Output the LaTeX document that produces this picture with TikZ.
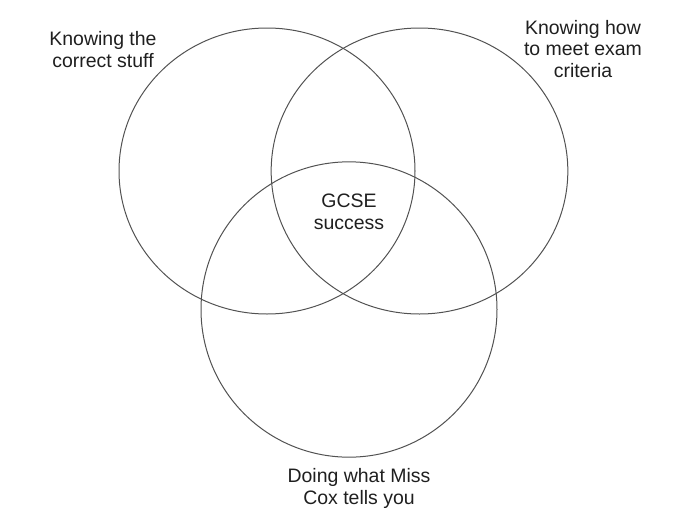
\documentclass[tikz,border=0pt]{standalone}
\usepackage{fontspec}
\setmainfont{Liberation Sans}
\usetikzlibrary{shapes.geometric}
\begin{document}
\begin{tikzpicture}[x=0.75pt,y=-0.75pt,
  setring/.style={draw=black!68, line width=0.75pt, ellipse, inner sep=0pt},
  lbl/.style={align=center, inner sep=0pt, font=\fontsize{14.6}{16.2}\selectfont, text=black!88}]
\useasboundingbox (0,0) rectangle (679,525);
\node[setring, minimum width=222pt, minimum height=214.5pt] (left) at (267,171) {};
\node[setring, minimum width=222.5pt, minimum height=214.5pt] (right) at (419.5,171) {};
\node[setring, minimum width=222pt, minimum height=221.5pt] (bottom) at (349,309.5) {};
\node[lbl] (tl) at (103,49.5) {Knowing the\\correct stuff};
\node[lbl] (tr) at (583,49) {Knowing how\\to meet exam\\criteria};
\node[lbl] (mid) at (349,211.5) {GCSE\\success};
\node[lbl] (bt) at (359,488.5) {Doing what Miss\\Cox tells you};
\end{tikzpicture}
\end{document}
